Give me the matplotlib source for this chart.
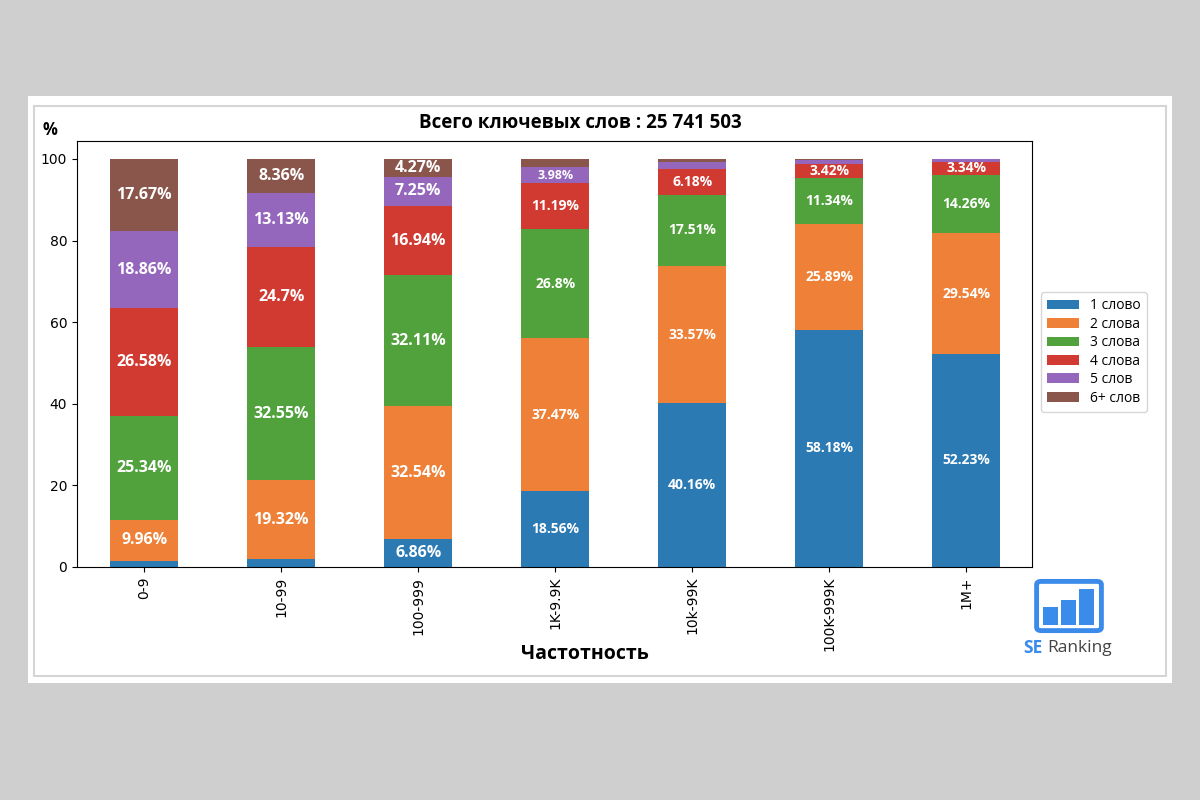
import matplotlib.pyplot as plt
from matplotlib.patches import Rectangle, FancyBboxPatch
import numpy as np

# данные
categories = ['0-9', '10-99', '100-999', '1K-9.9K', '10k-99K', '100K-999K', '1M+']
w1 = [1.59, 1.94, 6.86, 18.56, 40.16, 58.18, 52.23]
w2 = [9.96, 19.32, 32.54, 37.47, 33.57, 25.89, 29.54]
w3 = [25.34, 32.55, 32.11, 26.8, 17.51, 11.34, 14.26]
w4 = [26.58, 24.7, 16.94, 11.19, 6.18, 3.42, 3.34]
w5 = [18.86, 13.13, 7.25, 3.98, 1.8, 0.8, 0.5]
w6 = [17.67, 8.36, 4.27, 2.0, 0.78, 0.37, 0.13]
series_names = ['1 слово', '2 слова', '3 слова', '4 слова', '5 слов', '6+ слов']
title = 'Всего ключевых слов : 25 741 503'

series = [w1, w2, w3, w4, w5, w6]
colors = ['#2b7ab3', '#ee8137', '#51a13c', '#d13a30', '#9467bd', '#8a564c']
font = ['Open Sans', 'DejaVu Sans']

fig = plt.figure(figsize=(12, 8), dpi=100)
fig.patch.set_facecolor('#cfcfcf')
fig.patches.append(Rectangle((28/1200, 1-683/800), 1144/1200, 587/800,
                             transform=fig.transFigure, facecolor='white',
                             edgecolor='none', zorder=-3))
fig.patches.append(Rectangle((34/1200, 1-676/800), 1132/1200, 570/800,
                             transform=fig.transFigure, facecolor='white',
                             edgecolor='#d5d5d5', lw=1.5, zorder=-2))

ax = fig.add_axes([77/1200, 1-567/800, 955/1200, 426/800])
ax.set_zorder(2)
x = np.arange(len(categories))
bottom = np.zeros(len(categories))
for i, vals in enumerate(series):
    vals = np.array(vals)
    ax.bar(x, vals, 0.5, bottom=bottom, color=colors[i], label=series_names[i])
    for j, v in enumerate(vals):
        if v >= 3:
            fs = 11.5 if j < 3 else 10
            if j == 3 and v < 5:
                fs = 9
            ax.text(x[j], bottom[j] + v / 2, f'{v:g}%', ha='center', va='center',
                    color='white', fontsize=fs, fontweight='bold', family=font)
    bottom += vals

ax.set_xlim(-0.49, 6.48)
ax.set_ylim(0, 104.4)
ax.set_yticks([0, 20, 40, 60, 80, 100])
ax.set_xticks(x)
ax.set_xticklabels(categories, rotation=90, fontsize=10)
ax.tick_params(axis='y', labelsize=10)
ax.set_title(title, fontsize=13.5, fontweight='bold', family=font, x=0.527, y=1.0, pad=9)
ax.set_xlabel('Частотность', fontsize=14, fontweight='bold', family=font)
ax.xaxis.set_label_coords(0.532, -0.18)
fig.text(42/1200, 1-130/800, '%', fontsize=12, fontweight='bold',
         family=font, ha='left', va='center')

handles, labels = ax.get_legend_handles_labels()
fig.legend(handles, labels, loc='center left', bbox_to_anchor=(1034/1200, 1-352/800),
           frameon=True, prop={'family': font, 'size': 10},
           handlelength=2.3, borderpad=0.45, labelspacing=0.25)

# логотип SE Ranking
fig.patches.append(FancyBboxPatch((1039/1200, 1-629/800), 60/1200, 46/800,
                                  boxstyle='round,pad=0.002,rounding_size=0.004',
                                  transform=fig.transFigure, facecolor='white',
                                  edgecolor='#3b8beb', lw=3.5))
for bx, by, bh in [(1043, 625, 18), (1061, 625, 25), (1079, 625, 36)]:
    fig.patches.append(Rectangle((bx/1200, 1-by/800), 15/1200, bh/800,
                                 transform=fig.transFigure, facecolor='#3b8beb',
                                 edgecolor='none'))
fig.text(1023/1200, 1-648/800, 'SE', color='#3b8beb', fontsize=12.5, fontweight='bold',
         family=font, ha='left', va='center')
fig.text(1047/1200, 1-648/800, 'Ranking', color='#444444', fontsize=12.5,
         family=font, ha='left', va='center')

fig.savefig('out.png', dpi=100, facecolor=fig.get_facecolor())
